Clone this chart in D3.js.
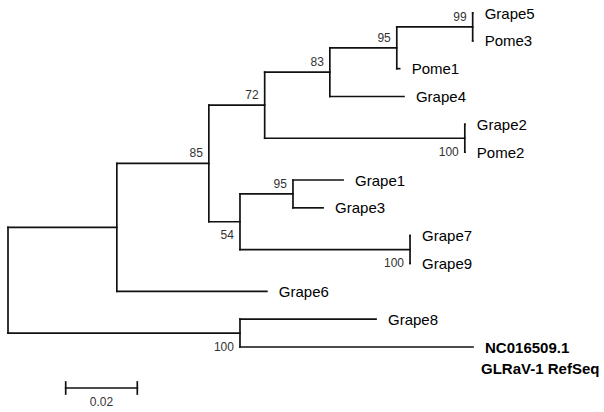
<!DOCTYPE html>
<html>
<head>
<meta charset="utf-8">
<script src="https://cdn.jsdelivr.net/npm/d3@7"></script>
<style>
    body { margin: 0; background: #fff; }
    #chart { width: 604px; height: 412px; }
    .branch { stroke: #111; stroke-width: 1.7; fill: none; stroke-linecap: square; }
    .leaf { font-family: 'Liberation Sans', Arial, sans-serif; font-size: 15px; fill: #000; }
    .leaf-bold { font-weight: bold; font-size: 15px; }
    .boot { font-family: 'Liberation Sans', Arial, sans-serif; font-size: 12px; fill: #333; }
</style>
</head>
<body>
<div id="chart"></div>
<script>
//Datos del árbol (orden = orden de dibujo de arriba a abajo)
const nodeIds = ['root','nA','nB','nC','nD','nE','nF','Grape5','Pome3','Pome1','Grape4','nG','Grape2','Pome2',
    'nH','nI','Grape1','Grape3','nJ','Grape7','Grape9','Grape6','nK','Grape8','NC016509.1'];
const parents = ['','root','nA','nB','nC','nD','nE','nF','nF','nE','nD','nC','nG','nG',
    'nB','nH','nI','nI','nH','nJ','nJ','nA','root','nK','nK'];
const branchLengths = [0,0.0304,0.0257,0.0156,0.0182,0.0187,0.0212,0,0,0.0008,0.0207,0.0559,0,0,
    0.0087,0.0148,0.0140,0.0084,0.0475,0,0,0.0419,0.0648,0.0380,0.0651];
const bootstraps = [null,null,85,72,83,95,99,null,null,null,null,100,null,null,
    54,95,null,null,100,null,null,null,100,null,null];
const scaleBarValue = 0.02;
const scaleBarLabel = '0.02';

let svg = d3.select('#chart')
    .append('svg')
    .attr('width', 604)
    .attr('height', 412);

//Jerarquía
let table = nodeIds.map(function(id, i) {
    return { id: id, parent: parents[i], length: branchLengths[i], boot: bootstraps[i] };
});
let root = d3.stratify()
    .id(function(d) { return d.id; })
    .parentId(function(d) { return d.parent || null; })(table);

//Distancia acumulada
root.eachBefore(function(n) {
    n.dist = n.parent ? n.parent.dist + n.data.length : 0;
});

let leaves = root.leaves();
let x = d3.scaleLinear()
    .domain([0, scaleBarValue])
    .range([8, 8 + 71.6]);
let y = d3.scalePoint()
    .domain(leaves.map(function(d) { return d.id; }))
    .range([13, 347]);

//Posición vertical: hojas equiespaciadas, nodos internos en el punto medio
root.eachAfter(function(n) {
    if (n.children) {
        n.py = (n.children[0].py + n.children[n.children.length - 1].py) / 2;
    } else {
        n.py = y(n.id);
    }
    n.px = x(n.dist);
});

let g = svg.append('g');

//Ramas horizontales
g.selectAll('.h')
    .data(root.descendants().filter(function(d) { return d.parent; }))
    .enter()
    .append('line')
    .attr('class', 'branch')
    .attr('x1', function(d) { return d.parent.px; })
    .attr('x2', function(d) { return d.px; })
    .attr('y1', function(d) { return d.py; })
    .attr('y2', function(d) { return d.py; });

//Ramas verticales
g.selectAll('.v')
    .data(root.descendants().filter(function(d) { return d.children; }))
    .enter()
    .append('line')
    .attr('class', 'branch')
    .attr('x1', function(d) { return d.px; })
    .attr('x2', function(d) { return d.px; })
    .attr('y1', function(d) { return d.children[0].py; })
    .attr('y2', function(d) { return d.children[d.children.length - 1].py; });

//Bootstrap: arriba si es el primer hijo, abajo si es el último
g.selectAll('.boot')
    .data(root.descendants().filter(function(d) { return d.data.boot != null; }))
    .enter()
    .append('text')
    .attr('class', 'boot')
    .attr('text-anchor', 'end')
    .attr('x', function(d) { return d.px - 6; })
    .attr('y', function(d) {
        let sib = d.parent.children;
        return sib.indexOf(d) == sib.length - 1 ? d.py + 17.5 : d.py - 6;
    })
    .text(function(d) { return d.data.boot; });

//Etiquetas de hojas
let leafText = g.selectAll('.leaf')
    .data(leaves)
    .enter()
    .append('text')
    .attr('class', function(d) { return d.id == 'NC016509.1' ? 'leaf leaf-bold' : 'leaf'; })
    .attr('x', function(d) { return d.px + 12; })
    .attr('y', function(d) { return d.py + 5.5; });

leafText.filter(function(d) { return d.id != 'NC016509.1'; })
    .text(function(d) { return d.id; });

let ref = leafText.filter(function(d) { return d.id == 'NC016509.1'; });
ref.append('tspan').text('NC016509.1');
ref.append('tspan')
    .attr('x', function(d) { return d.px + 8; })
    .attr('dy', 21)
    .text('GLRaV-1 RefSeq');

//Barra de escala
let sx0 = 65.7;
let sx1 = sx0 + (x(scaleBarValue) - x(0));
let sb = svg.append('g');
sb.append('line').attr('class', 'branch').attr('x1', sx0).attr('x2', sx1).attr('y1', 388).attr('y2', 388);
sb.append('line').attr('class', 'branch').attr('x1', sx0).attr('x2', sx0).attr('y1', 382).attr('y2', 394);
sb.append('line').attr('class', 'branch').attr('x1', sx1).attr('x2', sx1).attr('y1', 382).attr('y2', 394);
sb.append('text')
    .attr('class', 'boot')
    .attr('text-anchor', 'middle')
    .attr('x', (sx0 + sx1) / 2)
    .attr('y', 406)
    .text(scaleBarLabel);
</script>
</body>
</html>
